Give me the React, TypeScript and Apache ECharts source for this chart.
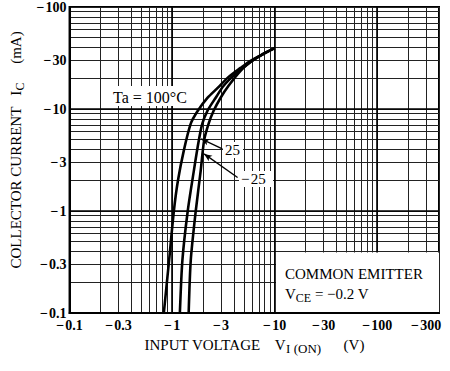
import React, { useEffect, useRef } from "react";
import * as echarts from "echarts";

const FONT = "'Liberation Serif', 'Times New Roman', serif";

// Axis tick labels (V and mA, negative as printed)
const xLabelValues = [-0.1, -0.3, -1, -3, -10, -30, -100, -300];
const yLabelValues = [-0.1, -0.3, -1, -3, -10, -30, -100];
const xGridDecades = [-0.1, -1, -10, -100];
const yGridDecades = [-0.1, -1, -10];
const gridSteps = [1, 2, 3, 4, 5, 6, 7, 8, 9];
const xEnd = -400;
const yEnd = -100;

// Ta = 100 °C
const vi100 = [-0.83, -0.935, -1.04, -1.14, -1.3, -1.52, -1.78, -2.22, -2.78, -3.47, -4.65, -5.81, -7.77, -10.0];
const ic100 = [-0.1, -0.33, -1.0, -1.99, -3.91, -7.18, -9.6, -12.9, -16.1, -20.2, -25.3, -29.7, -34.8, -39.5];
// Ta = 25 °C
const vi25 = [-1.19, -1.26, -1.42, -1.63, -1.82, -1.97, -2.21, -2.66, -3.18, -4.15, -5.81, -7.77, -10.0];
const ic25 = [-0.1, -0.33, -1.0, -2.49, -4.9, -7.18, -9.6, -12.9, -16.9, -22.1, -29.0, -34.8, -39.5];
// Ta = -25 °C
const viM25 = [-1.45, -1.52, -1.7, -1.9, -2.05, -2.27, -2.54, -2.97, -3.55, -4.65, -6.0, -7.77, -10.0];
const icM25 = [-0.1, -0.33, -1.0, -2.49, -4.9, -7.18, -9.6, -12.9, -16.9, -23.7, -29.5, -34.8, -39.5];

// annotation arrows (V, mA)
const arrow25From = [-3.09, -4.06];
const arrow25To = [-1.92, -5.1];
const arrowM25From = [-4.35, -2.13];
const arrowM25To = [-2.05, -3.63];

const lg = (v: number) => Math.log10(Math.abs(v));

function gridValues(decades: number[], end: number) {
  const out: number[] = [];
  decades.forEach((d) =>
    gridSteps.forEach((s) => {
      const v = d * s;
      if (Math.abs(v) <= Math.abs(end) + 1e-9) out.push(lg(v));
    })
  );
  if (!out.some((v) => Math.abs(v - lg(end)) < 1e-9)) out.push(lg(end));
  return out;
}

const fmt = (labels: number[]) => (val: number) => {
  const l = labels.find((x) => Math.abs(lg(x) - val) < 1e-6);
  return l === undefined ? "" : "\u2212\u200A" + Math.abs(l);
};

const pts = (xs: number[], ys: number[]) => xs.map((x, i) => [lg(x), lg(ys[i])]);

export default function App() {
  const ref = useRef<HTMLDivElement>(null);
  useEffect(() => {
    if (!ref.current) return;
    const chart = echarts.init(ref.current, undefined, { renderer: "svg" });
    const lineStyle = { color: "#000", width: 2.6 };
    const nameRich = {
      a0: { fontSize: 15, fontFamily: FONT, color: "#000", lineHeight: 20, padding: [0, 0, 0, 0] },
      a: { fontSize: 15, fontFamily: FONT, color: "#000", lineHeight: 20 },
      s: { fontSize: 13, fontFamily: FONT, color: "#000", lineHeight: 10, verticalAlign: "bottom" },
    };
    const yNameRich = {
      ...nameRich,
      a0: { fontSize: 15, fontFamily: FONT, color: "#000", lineHeight: 20, padding: [0, 0, 0, 20] },
      s: { fontSize: 12, fontFamily: FONT, color: "#000", lineHeight: 10, verticalAlign: "bottom" },
    };
    const tickLabel = {
      fontFamily: FONT,
      fontSize: 14,
      lineHeight: 12,
      fontWeight: "bold",
      color: "#000",
      showMinLabel: true,
      showMaxLabel: true,
    };
    const option: any = {
      animation: false,
      backgroundColor: "#fff",
      grid: {
        left: 68,
        top: 6,
        width: 371,
        height: 307,
        show: true,
        borderColor: "#000",
        borderWidth: 2,
        backgroundColor: "transparent",
      },
      xAxis: {
        type: "value",
        min: lg(xLabelValues[0]),
        max: lg(xEnd),
        axisLine: { show: true, onZero: false, lineStyle: { color: "#000", width: 2 } },
        axisTick: { show: false, customValues: gridValues(xGridDecades, xEnd) },
        splitLine: { show: true, lineStyle: { color: "#222", width: 1 } },
        axisLabel: {
          ...tickLabel,
          customValues: xLabelValues.map(lg),
          formatter: fmt(xLabelValues),
          margin: 6,
        },
        name: "{a0|INPUT VOLTAGE    V}{s|I (ON)}{a|      (V)}",
        nameLocation: "middle",
        nameGap: 22,
        nameTextStyle: { rich: nameRich },
      },
      yAxis: {
        type: "value",
        min: lg(yLabelValues[0]),
        max: lg(yEnd),
        axisLine: { show: true, onZero: false, lineStyle: { color: "#000", width: 2 } },
        axisTick: { show: false, customValues: gridValues(yGridDecades, yEnd) },
        splitLine: { show: true, lineStyle: { color: "#222", width: 1 } },
        axisLabel: {
          ...tickLabel,
          customValues: yLabelValues.map(lg),
          formatter: fmt(yLabelValues),
          margin: 3,
        },
        name: "{a0|COLLECTOR CURRENT   I}{s|C}{a|     (mA)}",
        nameLocation: "middle",
        nameRotate: 90,
        nameGap: 40,
        nameTextStyle: { rich: yNameRich },
      },
      series: [
        {
          name: "100",
          type: "line",
          data: pts(vi100, ic100),
          showSymbol: false,
          smooth: 0.25,
          lineStyle,
          emphasis: { disabled: true },
          markLine: {
            silent: true,
            z: 3,
            symbol: ["none", "none"],
            label: { show: false },
            lineStyle: { color: "#000", width: 1.6, type: "solid" },
            data: [
              ...xGridDecades.slice(1).map((d) => ({ xAxis: lg(d) })),
              ...yGridDecades.slice(1).map((d) => ({ yAxis: lg(d) })),
            ],
          },
        },
        {
          name: "25",
          type: "line",
          data: pts(vi25, ic25),
          showSymbol: false,
          smooth: 0.25,
          lineStyle,
          emphasis: { disabled: true },
          markLine: {
            silent: true,
            symbol: ["none", "arrow"],
            symbolSize: [5, 8],
            label: { show: false },
            lineStyle: { color: "#000", width: 1.3, type: "solid" },
            data: [
              [
                { coord: [lg(arrow25From[0]), lg(arrow25From[1])] },
                { coord: [lg(arrow25To[0]), lg(arrow25To[1])] },
              ],
            ],
          },
        },
        {
          name: "-25",
          type: "line",
          data: pts(viM25, icM25),
          showSymbol: false,
          smooth: 0.25,
          lineStyle,
          emphasis: { disabled: true },
          markLine: {
            silent: true,
            symbol: ["none", "arrow"],
            symbolSize: [5, 8],
            label: { show: false },
            lineStyle: { color: "#000", width: 1.3, type: "solid" },
            data: [
              [
                { coord: [lg(arrowM25From[0]), lg(arrowM25From[1])] },
                { coord: [lg(arrowM25To[0]), lg(arrowM25To[1])] },
              ],
            ],
          },
        },
      ],
      graphic: [
        { type: "rect", z: 20, shape: { x: 103, y: 86, width: 92, height: 20 }, style: { fill: "#fff" } },
        {
          type: "text",
          z: 21,
          x: 113,
          y: 97,
          style: { text: "Ta = 100°C", fontSize: 16, fontFamily: FONT, fill: "#000", verticalAlign: "middle" },
        },
        { type: "rect", z: 20, shape: { x: 223, y: 142, width: 20, height: 16 }, style: { fill: "#fff" } },
        {
          type: "text",
          z: 21,
          x: 225,
          y: 150,
          style: { text: "25", fontSize: 15, fontFamily: FONT, fill: "#000", verticalAlign: "middle" },
        },
        { type: "rect", z: 20, shape: { x: 239, y: 171, width: 34, height: 16 }, style: { fill: "#fff" } },
        {
          type: "text",
          z: 21,
          x: 241,
          y: 179,
          style: { text: "\u2212\u200A25", fontSize: 15, fontFamily: FONT, fill: "#000", verticalAlign: "middle" },
        },
        { type: "rect", z: 20, shape: { x: 276, y: 252.5, width: 163, height: 59.5 }, style: { fill: "#fff" } },
        {
          type: "text",
          z: 21,
          x: 285,
          y: 274,
          style: { text: "COMMON EMITTER", fontSize: 15, fontFamily: FONT, fill: "#000", verticalAlign: "middle" },
        },
        {
          type: "text",
          z: 21,
          x: 285,
          y: 284,
          style: {
            text: "{a|V}{s|CE}{a| = \u22120.2 V}",
            fill: "#000",
            verticalAlign: "top",
            rich: {
              a: { fontSize: 15, fontFamily: FONT, fill: "#000", lineHeight: 20 },
              s: { fontSize: 12, fontFamily: FONT, fill: "#000", lineHeight: 10, verticalAlign: "bottom" },
            },
          },
        },
      ],
    };
    chart.setOption(option);
    return () => chart.dispose();
  }, []);
  return (
    <div
      ref={ref}
      style={{ position: "fixed", left: 0, top: 0, width: 450, height: 371, background: "#fff" }}
    />
  );
}
